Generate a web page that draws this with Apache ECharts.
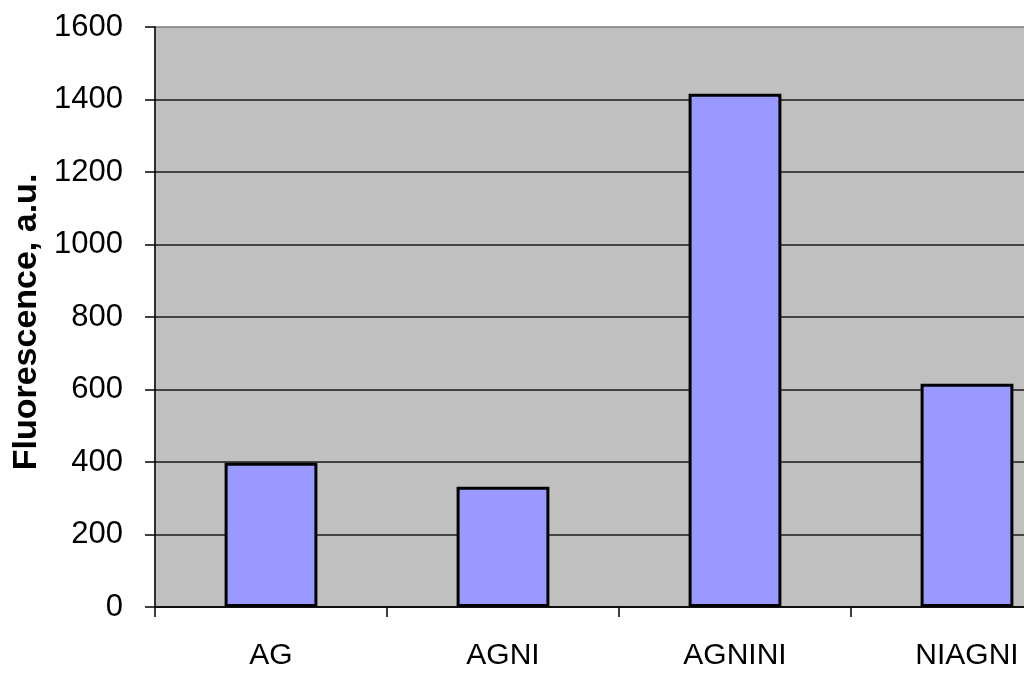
<!DOCTYPE html>
<html>
<head>
<meta charset="utf-8">
<script src="https://cdn.jsdelivr.net/npm/echarts@6/dist/echarts.min.js"></script>
<style>
  html, body { margin: 0; padding: 0; background: #ffffff; overflow: hidden; width: 1024px; height: 675px; }
  /* the plot runs past the right edge of the window, so the canvas is wider */
  #chart { width: 1083px; height: 675px; }
</style>
</head>
<body>
<div id="chart"></div>
<script>
// Sample names and their measured fluorescence
const categories = ['AG', 'AGNI', 'AGNINI', 'NIAGNI'];
const fluorescence = [398, 332, 1416, 616];
const yTicks = [0, 200, 400, 600, 800, 1000, 1200, 1400, 1600];
const yTitle = 'Fluorescence, a.u.';

const font = 'Arial, "Liberation Sans", sans-serif';

// grid lines: dark inside the plot, the top one is the plot border colour
const gridColors = yTicks.map((v, i) => (i === yTicks.length - 1 ? '#8a8a8a' : '#1a1a1a'));

const chart = echarts.init(document.getElementById('chart'), null, { renderer: 'canvas' });
chart.setOption({
  backgroundColor: '#ffffff',
  animation: false,
  grid: {
    left: 155,
    top: 27,
    bottom: 68,
    right: 0,
    outerBoundsMode: 'none',
    show: true,
    backgroundColor: '#c0c0c0',
    borderColor: '#8a8a8a',
    borderWidth: 1,
    containLabel: false
  },
  xAxis: {
    type: 'category',
    data: categories,
    boundaryGap: true,
    axisLine: { show: true, lineStyle: { color: '#000', width: 1.5 } },
    axisTick: { show: true, alignWithLabel: false, length: 10, inside: false, lineStyle: { color: '#000', width: 1.5 } },
    axisLabel: { color: '#000', fontFamily: font, fontSize: 30, margin: 34 },
    splitLine: { show: false }
  },
  yAxis: {
    type: 'value',
    min: yTicks[0],
    max: yTicks[yTicks.length - 1],
    interval: yTicks[1] - yTicks[0],
    name: yTitle,
    nameLocation: 'middle',
    nameGap: 111,
    nameRotate: 90,
    nameTextStyle: {
      color: '#000', fontFamily: font, fontSize: 34, fontWeight: 'bold',
      padding: [0, 10, 0, 0]
    },
    axisLine: { show: true, lineStyle: { color: '#000', width: 1.5 } },
    axisTick: { show: true, length: 10, lineStyle: { color: '#000', width: 1.5 } },
    axisLabel: {
      color: '#000', fontFamily: font, fontSize: 31, margin: 32,
      formatter: (v) => String(v)
    },
    splitLine: { show: true, lineStyle: { color: gridColors, width: 1.5 } }
  },
  series: [{
    type: 'bar',
    data: fluorescence,
    barWidth: '40%',
    itemStyle: { color: '#9999ff', borderColor: '#000', borderWidth: 3 }
  }]
});
</script>
</body>
</html>
